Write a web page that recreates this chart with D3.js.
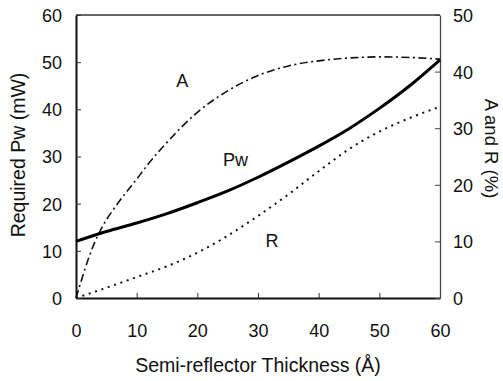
<!DOCTYPE html>
<html lang="en">
<head>
  <meta charset="UTF-8">
  <title>Required Pw, A and R vs semi-reflector thickness</title>
  <script src="https://d3js.org/d3.v7.min.js"></script>
  <style>
    body { margin: 0; background: #fff; }
    text { font-family: "Liberation Sans", Arial, sans-serif; fill: #111; }
    .tick text { font-size: 18px; }
    .axis-title { font-size: 19.5px; }
    .curve-label { font-size: 18px; }
  </style>
</head>
<body>
  <div id="chart"></div>
  <script>
    // thickness in angstrom for each series
    const pwThickness = [0, 5, 10, 15, 20, 25, 30, 35, 40, 45, 50, 55, 60];
    const pwValues = [12, 14.1, 15.9, 17.9, 20.2, 22.7, 25.6, 28.8, 32.2, 35.9, 40.2, 45, 50.5];

    const aThickness = [0, 1, 2, 3, 4, 5, 6, 8, 10, 12, 15, 20, 25, 30, 35, 40, 45, 50, 55, 60];
    const aValues = [0, 3.5, 6.8, 9.6, 11.9, 13.8, 15.4, 18.3, 21, 23.8, 27.5, 32.8, 36.6, 39.3, 41, 41.9, 42.4, 42.6, 42.5, 42.2];

    const rThickness = [0, 5, 10, 15, 20, 25, 30, 35, 40, 45, 50, 55, 60];
    const rValues = [0, 1.8, 3.7, 5.6, 8, 11, 14.5, 18.3, 22.4, 26.3, 29.4, 31.8, 33.8];

    const xTicks = [0, 10, 20, 30, 40, 50, 60];
    const leftTicks = [0, 10, 20, 30, 40, 50, 60];
    const rightTicks = [0, 10, 20, 30, 40, 50];

    const width = 503, height = 381;
    const margin = { top: 15, right: 63, bottom: 83, left: 76 };
    const innerW = width - margin.left - margin.right;
    const innerH = height - margin.top - margin.bottom;

    const svg = d3.select("#chart").append("svg")
      .attr("width", width)
      .attr("height", height);
    const g = svg.append("g").attr("transform", `translate(${margin.left},${margin.top})`);

    const x = d3.scaleLinear().domain([0, 60]).range([0, innerW]);
    const yLeft = d3.scaleLinear().domain([0, 60]).range([innerH, 0]);
    const yRight = d3.scaleLinear().domain([0, 50]).range([innerH, 0]);

    // frame top
    g.append("line")
      .attr("x1", 0).attr("x2", innerW).attr("y1", 0).attr("y2", 0)
      .attr("stroke", "#333").attr("stroke-width", 1.3);

    // axes, ticks point inward
    const bottomAxis = g.append("g")
      .attr("transform", `translate(0,${innerH})`)
      .call(d3.axisBottom(x).tickValues(xTicks).tickSizeInner(-5).tickSizeOuter(0));
    bottomAxis.selectAll(".tick text").attr("y", 39).attr("dy", null);

    const leftAxis = g.append("g")
      .call(d3.axisLeft(yLeft).tickValues(leftTicks).tickSizeInner(-5).tickSizeOuter(0).tickPadding(14));
    leftAxis.selectAll(".tick text").attr("dy", "0.36em");

    const rightAxis = g.append("g")
      .attr("transform", `translate(${innerW},0)`)
      .call(d3.axisRight(yRight).tickValues(rightTicks).tickSizeInner(-5).tickSizeOuter(0).tickPadding(13));
    rightAxis.selectAll(".tick text").attr("dy", "0.36em");

    [bottomAxis, leftAxis].forEach(a => {
      a.select(".domain").attr("stroke", "#111").attr("stroke-width", 2);
      a.selectAll(".tick line").attr("stroke", "#333").attr("stroke-width", 1);
    });
    rightAxis.select(".domain").attr("stroke", "#444").attr("stroke-width", 1.3);
    rightAxis.selectAll(".tick line").attr("stroke", "#444").attr("stroke-width", 1);
    svg.selectAll(".tick text").attr("fill", "#111");

    // curves
    const lineLeft = d3.line()
      .x(d => x(d[0])).y(d => yLeft(d[1]))
      .curve(d3.curveMonotoneX);
    const lineRight = d3.line()
      .x(d => x(d[0])).y(d => yRight(d[1]))
      .curve(d3.curveMonotoneX);

    g.append("path")
      .datum(d3.zip(aThickness, aValues))
      .attr("d", lineRight)
      .attr("fill", "none")
      .attr("stroke", "#111")
      .attr("stroke-width", 1.6)
      .attr("stroke-dasharray", "8,3.5,2,3.5");

    g.append("path")
      .datum(d3.zip(rThickness, rValues))
      .attr("d", lineRight)
      .attr("fill", "none")
      .attr("stroke", "#111")
      .attr("stroke-width", 2)
      .attr("stroke-dasharray", "2,4.7");

    g.append("path")
      .datum(d3.zip(pwThickness, pwValues))
      .attr("d", lineLeft)
      .attr("fill", "none")
      .attr("stroke", "#000")
      .attr("stroke-width", 3);

    // curve labels
    const labels = [
      { text: "A", t: 17.5, v: 37.3, scale: yRight },
      { text: "Pw", t: 26.3, v: 28, scale: yLeft },
      { text: "R", t: 32.3, v: 9.05, scale: yRight }
    ];
    g.selectAll(".curve-label")
      .data(labels)
      .enter().append("text")
      .attr("class", "curve-label")
      .attr("x", d => x(d.t))
      .attr("y", d => d.scale(d.v))
      .attr("text-anchor", "middle")
      .text(d => d.text);

    // axis titles
    svg.append("text")
      .attr("class", "axis-title")
      .attr("x", margin.left + innerW / 2)
      .attr("y", 372)
      .attr("text-anchor", "middle")
      .text("Semi-reflector Thickness (Å)");

    svg.append("text")
      .attr("class", "axis-title")
      .attr("transform", "translate(25,155) rotate(-90)")
      .attr("text-anchor", "middle")
      .text("Required Pw (mW)");

    svg.append("text")
      .attr("class", "axis-title")
      .style("font-size", "18.5px")
      .attr("transform", "translate(485,148.5) rotate(90)")
      .attr("text-anchor", "middle")
      .text("A and R (%)");
  </script>
</body>
</html>
